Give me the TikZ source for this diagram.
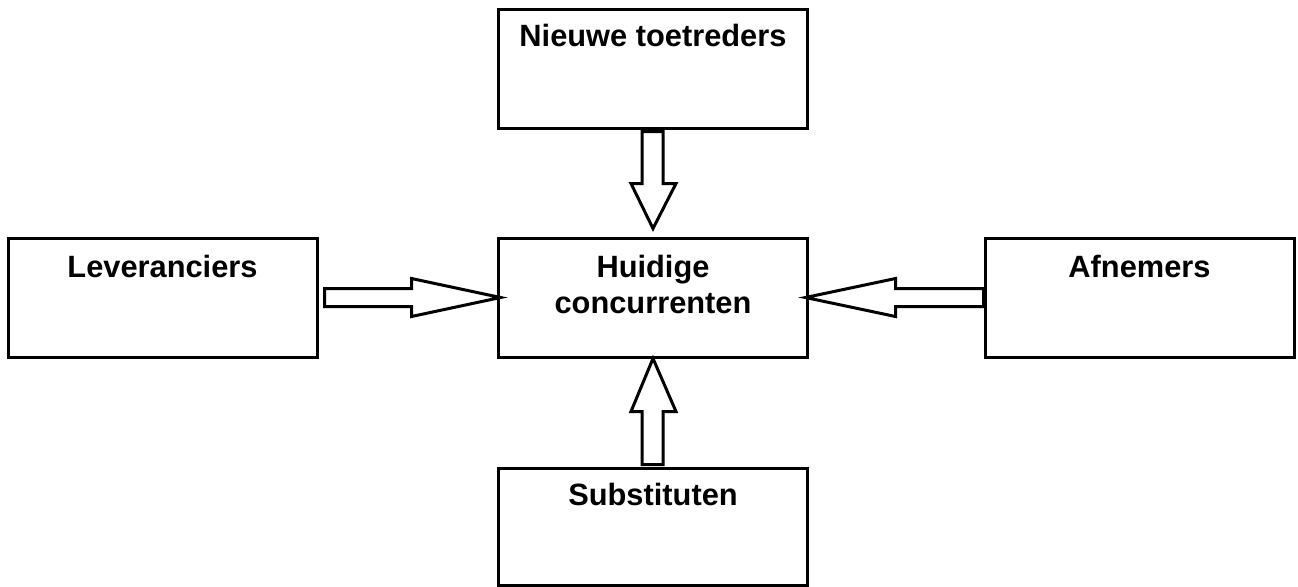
\documentclass[tikz,border=0pt]{standalone}
\usepackage{fontspec}
\setmainfont{Liberation Sans}
\usetikzlibrary{calc}
\begin{document}
\begin{tikzpicture}[x=0.5pt,y=-0.5pt,
  box/.style={draw=black,line width=1.5pt,rectangle,inner sep=0pt,minimum width=154.5pt,minimum height=59.5pt},
  lbl/.style={anchor=base,inner sep=0pt,font=\fontsize{15.4}{18}\selectfont\bfseries,align=center},
  barrow/.style={draw=black,fill=white,line width=1.5pt,line join=miter}]
\useasboundingbox (0,0) rectangle (1298,586);
\node[box] (top) at (653,68.5) {};
\node[box] (ctr) at (653,298) {};
\node[box,minimum height=58.5pt] (bot) at (653,526.5) {};
\node[box] (left) at (162.5,297.5) {};
\node[box] (right) at (1139.5,297.5) {};
\node[lbl] (ttop) at ($(top.north)+(0,39)$) {Nieuwe toetreders};
\node[lbl] (tctr1) at ($(ctr.north)+(0,40)$) {Huidige};
\node[lbl] (tctr2) at ($(ctr.north)+(0,76)$) {concurrenten};
\node[lbl] (tbot) at ($(bot.north)+(0,39)$) {Substituten};
\node[lbl] (tleft) at ($(left.north)+(0,41)$) {Leveranciers};
\node[lbl] (tright) at ($(right.north)+(0,41)$) {Afnemers};
% top arrow (down)
\draw[barrow,shift={(top.south)}] (-11,2) -- (10,2) -- (10,54) -- (23,54) -- (0,99) -- (-22,54) -- (-11,54) -- cycle;
% bottom arrow (up)
\draw[barrow,shift={(bot.north)}] (-11,-2) -- (10,-2) -- (10,-55) -- (23,-55) -- (0,-108) -- (-22,-55) -- (-11,-55) -- cycle;
% left arrow (right-pointing)
\draw[barrow,shift={(left.east)}] (6,-9) -- (93,-9) -- (93,-19) -- (182,0) -- (93,19) -- (93,9) -- (6,9) -- cycle;
% right arrow (left-pointing)
\draw[barrow,shift={(right.west)}] (0,-9) -- (-88,-9) -- (-88,-19) -- (-178,0) -- (-88,19) -- (-88,9) -- (0,9) -- cycle;
\end{tikzpicture}
\end{document}
